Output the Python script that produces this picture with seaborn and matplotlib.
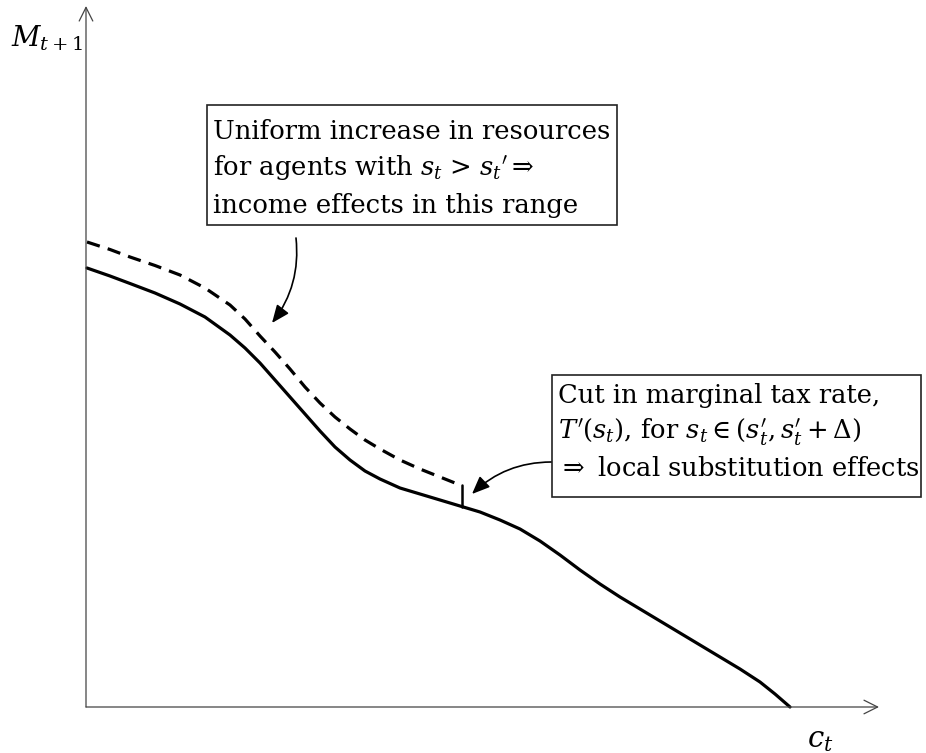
import matplotlib
matplotlib.use("Agg")
import matplotlib.pyplot as plt
import matplotlib.patches as mpatches
import seaborn as sns

sns.set_style("white")
plt.rcParams["font.family"] = ["DejaVu Serif"]
plt.rcParams["mathtext.fontset"] = "dejavuserif"
plt.rcParams["text.color"] = "black"

# budget constraint before the reform (solid), c_t vs M_{t+1}
base_c = [1, 24, 44, 69, 94, 119, 144, 159, 174, 189, 204, 219, 234, 249, 264,
          279, 294, 314, 334, 354, 374, 394, 414, 434, 454, 474, 494, 514, 534,
          554, 574, 594, 614, 634, 654, 674, 689, 704]
base_m = [439, 431, 423.5, 414, 403, 390, 372, 359, 344, 327, 310, 293, 276,
          260, 247, 236, 228, 219, 213, 207, 201, 195, 187, 178, 166, 152, 137,
          123, 110, 98, 86, 74, 62, 50, 38, 25, 13, 0]

# after the reform (dashed), only up to s_t'
new_c = [1, 24, 44, 69, 94, 119, 144, 159, 174, 189, 204, 219, 234, 249, 264,
         279, 294, 314, 334, 354, 374]
new_m = [465, 457.5, 450, 441.5, 432, 419, 402, 388, 371, 355, 338, 320, 304,
         290, 278, 267, 258, 247, 238, 230, 222]

# the jump at s_t'
jump_c = [376, 376]
jump_m = [222, 200]

box1_lines = ["Uniform increase in resources",
              r"for agents with $s_t$ > $s_t{}'$$\Rightarrow$",
              "income effects in this range"]
box2_lines = ["Cut in marginal tax rate,",
              r"$T'(s_t)$, for $s_t \in (s_t', s_t' + \Delta)$",
              r"$\Rightarrow$ local substitution effects"]

fig = plt.figure(figsize=(9.26, 7.53), dpi=100)
ax = fig.add_axes([0, 0, 1, 1])
ax.set_xlim(-86, 840)
ax.set_ylim(-46, 707)
ax.set_axis_off()

# axes with open arrow heads
axis_kw = dict(arrowstyle="->,head_length=0.7,head_width=0.35", color="#444444",
               lw=0.9, mutation_scale=14, shrinkA=0, shrinkB=0)
ax.annotate("", xy=(0, 701), xytext=(0, 0), arrowprops=axis_kw)
ax.annotate("", xy=(793, 0), xytext=(0, 0), arrowprops=axis_kw)
ax.text(-39, 669, r"$M_{t+1}$", fontsize=20, ha="center", va="center")
ax.text(734, -33, r"$c_t$", fontsize=21, ha="center", va="center")

sns.lineplot(x=base_c, y=base_m, ax=ax, color="black", linewidth=2.3,
             sort=False, estimator=None)
sns.lineplot(x=new_c, y=new_m, ax=ax, color="black", linewidth=2.3,
             sort=False, estimator=None, linestyle=(0, (4.2, 2.6)),
             dash_capstyle="butt")
sns.lineplot(x=jump_c, y=jump_m, ax=ax, color="black", linewidth=1.8,
             sort=False, estimator=None)

# annotation boxes
ax.add_patch(mpatches.Rectangle((121, 482), 410, 120, fill=False,
                                edgecolor="#222222", lw=1.2))
ax.add_patch(mpatches.Rectangle((466, 210), 369, 122, fill=False,
                                edgecolor="#222222", lw=1.2))
for line, y in zip(box1_lines, [568, 531, 494]):
    ax.text(127, y, line, fontsize=18.6, ha="left", va="baseline")
for line, y in zip(box2_lines, [304, 268, 231]):
    ax.text(472, y, line, fontsize=18.5, ha="left", va="baseline")

arrow_kw = dict(arrowstyle="-|>,head_length=0.6,head_width=0.25", color="black",
                lw=1.2, mutation_scale=18, shrinkA=0, shrinkB=0)
ax.annotate("", xy=(186, 384), xytext=(210, 469),
            arrowprops=dict(connectionstyle="arc3,rad=-0.2", **arrow_kw))
ax.annotate("", xy=(386, 213), xytext=(465, 245),
            arrowprops=dict(connectionstyle="arc3,rad=0.2", **arrow_kw))

fig.savefig("out.png", dpi=100)
